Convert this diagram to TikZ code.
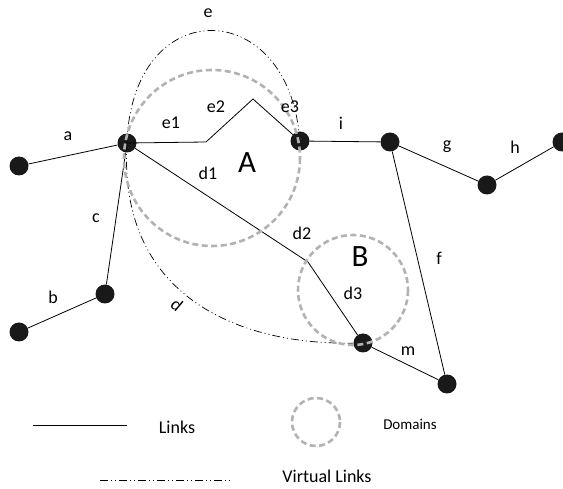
\documentclass[tikz,border=0pt]{standalone}
\usepackage{fontspec}
\setmainfont{Carlito}
\tikzset{
  dot/.style={circle,fill=black!90,inner sep=0pt,minimum size=19pt},
  link/.style={line width=0.8pt},
  vlink/.style={line width=0.7pt,dash pattern=on 8pt off 3pt on 1pt off 3pt on 1pt off 3pt},
  dombox/.style={draw=black!30,line width=2.6pt,dash pattern=on 6pt off 3.5pt},
  lbl/.style={font=\fontsize{18}{21}\selectfont},
  big/.style={font=\fontsize{31}{35}\selectfont}
}
\begin{document}
\begin{tikzpicture}[x=1pt,y=-1pt]
\useasboundingbox (0,0) rectangle (563,489);

\node[dot] (nA) at (19,166) {};
\node[dot] (hub) at (127,143) {};
\node[dot] (nE) at (300,141) {};
\node[dot] (nI) at (390,142) {};
\node[dot] (nG) at (487,185) {};
\node[dot] (nH) at (562,142) {};
\node[dot] (nC) at (105,294) {};
\node[dot] (nB) at (19,332) {};
\node[dot] (nM) at (363,343) {};
\node[dot] (nF) at (447,384) {};

\coordinate (e1end) at (206,142);
\coordinate (e2top) at (253,99);
\coordinate (d2bend) at (308,262);

\draw[link] (nA) -- (hub);
\draw[link] (hub) -- (nC);
\draw[link] (nC) -- (nB);
\draw[link] (hub.center) -- (e1end) -- (e2top) -- (nE);
\draw[link] (hub) -- (d2bend) -- (nM);
\draw[link] (nE) -- (nI);
\draw[link] (nI) -- (nG);
\draw[link] (nG) -- (nH);
\draw[link] (nI) -- (nF);
\draw[link] (nM) -- (nF);

\draw[vlink] (hub.center) .. controls (132,-5) and (283,-5) .. (nE);
\draw[vlink] (hub.center) .. controls (118,290) and (230,345) .. (nM);

\draw[dombox] (212,158) circle (88);
\draw[dombox] (353,290) circle (55);

\foreach \pos/\txt in {{(68,136)/a},{(53,297)/b},{(96,218)/c},{(208,13)/e},{(171,123)/e1},{(216,107)/e2},{(290,107)/e3},{(208,173)/d1},{(302,233)/d2},{(353,293)/d3},{(341,123)/i},{(447,147)/g},{(515,147)/h},{(439,258)/f},{(408,351)/m}} \node[lbl] at \pos {\txt};
\node[lbl,rotate=-40] (dlab) at (177,305) {d};
\node[big] (labA) at (247,163) {A};
\node[big] (labB) at (360,257) {B};

% legend
\coordinate (lk1) at (33,425);
\coordinate (lk2) at (127,425);
\draw[link] (lk1) -- (lk2);
\node[lbl] (lkt) at (177,427) {Links};
\draw[dombox] (316,422) circle (24);
\node[font=\fontsize{15}{18}\selectfont] (dmt) at (410,424) {Domains};
\coordinate (vl1) at (100,480);
\coordinate (vl2) at (233,480);
\draw[vlink] (vl1) -- (vl2);
\node[lbl] (vlt) at (327,476) {Virtual Links};

\end{tikzpicture}
\end{document}
